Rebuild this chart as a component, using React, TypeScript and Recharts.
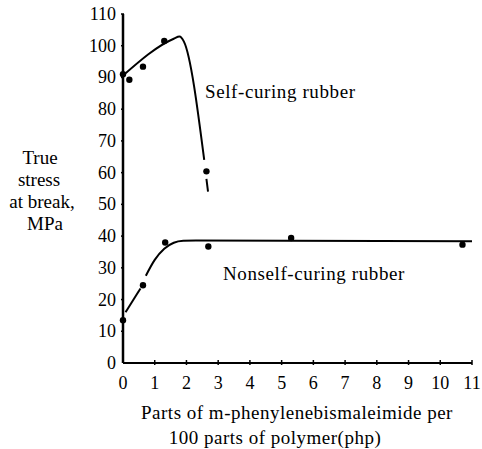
import React from "react";
import { ComposedChart, Line, Scatter, XAxis, YAxis } from "recharts";

// measured points (php, MPa)
const selfPoints = [
  { x: 0, y: 91 },
  { x: 0.2, y: 89.3 },
  { x: 0.63, y: 93.4 },
  { x: 1.3, y: 101.5 },
  { x: 2.63, y: 60.4 },
];
const nonselfPoints = [
  { x: 0, y: 13.5 },
  { x: 0.63, y: 24.5 },
  { x: 1.33, y: 38 },
  { x: 2.69, y: 36.7 },
  { x: 5.3, y: 39.4 },
  { x: 10.7, y: 37.3 },
];

// hand-drawn trend curves
const selfCurve = [
  { x: 0, y: 90.6 },
  { x: 1.6, y: 102.2 },
  { x: 1.78, y: 102.9 },
  { x: 1.92, y: 101.3 },
  { x: 2.56, y: 64 },
];
const selfTail = [
  { x: 2.63, y: 58 },
  { x: 2.68, y: 54 },
];
const nonselfStart = [
  { x: 0.08, y: 16 },
  { x: 0.55, y: 23.5 },
];
const nonselfCurve = [
  { x: 0.72, y: 27.5 },
  { x: 1.0, y: 32.5 },
  { x: 1.3, y: 36 },
  { x: 1.6, y: 37.9 },
  { x: 1.9, y: 38.5 },
  { x: 2.3, y: 38.6 },
  { x: 11, y: 38.4 },
];

const xTicks = [0, 1, 2, 3, 4, 5, 6, 7, 8, 9, 10, 11];
const yTicks = [0, 10, 20, 30, 40, 50, 60, 70, 80, 90, 100, 110];

const font = "'Liberation Serif', 'DejaVu Serif', serif";

const XTick = (props: any) => {
  const { x, y, payload } = props;
  return (
    <g>
      {payload.value > 0 && <line x1={x} x2={x} y1={y} y2={y - 5} stroke="#000" strokeWidth={1.5} />}
      <text x={x} y={y + 24} textAnchor="middle" fontSize={18} fontFamily={font} fill="#000">
        {payload.value}
      </text>
    </g>
  );
};

const YTick = (props: any) => {
  const { x, y, payload } = props;
  return (
    <g>
      {payload.value > 0 && <line x1={x} x2={x + 3} y1={y} y2={y} stroke="#000" strokeWidth={1.5} />}
      <text x={x - 5} y={y + 6} textAnchor="end" fontSize={18} fontFamily={font} fill="#000">
        {payload.value}
      </text>
    </g>
  );
};

const Dot = (props: any) => <circle cx={props.cx} cy={props.cy} r={3.2} fill="#000" />;

export default function App() {
  return (
    <div style={{ position: "absolute", left: 0, top: 0, background: "#fff" }}>
      <ComposedChart width={482} height={449} margin={{ top: 14, right: 10, left: 0, bottom: 0 }}>
        <XAxis
          type="number"
          dataKey="x"
          domain={[0, 11]}
          ticks={xTicks}
          interval={0}
          height={86}
          tickSize={0}
          tick={<XTick />}
          axisLine={{ stroke: "#000", strokeWidth: 2 }}
        />
        <YAxis
          type="number"
          dataKey="y"
          domain={[0, 110]}
          ticks={yTicks}
          interval={0}
          width={123}
          tickSize={0}
          tick={<YTick />}
          axisLine={{ stroke: "#000", strokeWidth: 2.5 }}
        />
        <Line data={selfCurve} dataKey="y" type="monotone" stroke="#000" strokeWidth={2} dot={false} isAnimationActive={false} />
        <Line data={selfTail} dataKey="y" type="linear" stroke="#000" strokeWidth={2} dot={false} isAnimationActive={false} />
        <Line data={nonselfStart} dataKey="y" type="linear" stroke="#000" strokeWidth={2} dot={false} isAnimationActive={false} />
        <Line data={nonselfCurve} dataKey="y" type="monotone" stroke="#000" strokeWidth={2} dot={false} isAnimationActive={false} />
        <Scatter data={selfPoints} dataKey="y" shape={<Dot />} isAnimationActive={false} />
        <Scatter data={nonselfPoints} dataKey="y" shape={<Dot />} isAnimationActive={false} />
        <g fontSize={19} fontFamily={font} fill="#000" letterSpacing={0.6}>
          <text x={205} y={98}>Self-curing rubber</text>
          <text x={223} y={280}>Nonself-curing rubber</text>
        </g>
        <g fontSize={19} fontFamily={font} fill="#000" textAnchor="middle">
          <text x={40} y={164}>True</text>
          <text x={39} y={186}>stress</text>
          <text x={42} y={208}>at break,</text>
          <text x={45} y={230}>MPa</text>
        </g>
        <g fontSize={19} fontFamily={font} fill="#000" textAnchor="middle" letterSpacing={0.5}>
          <text x={297} y={419}>Parts of m-phenylenebismaleimide per</text>
          <text x={275} y={444}>100 parts of polymer(php)</text>
        </g>
      </ComposedChart>
    </div>
  );
}
